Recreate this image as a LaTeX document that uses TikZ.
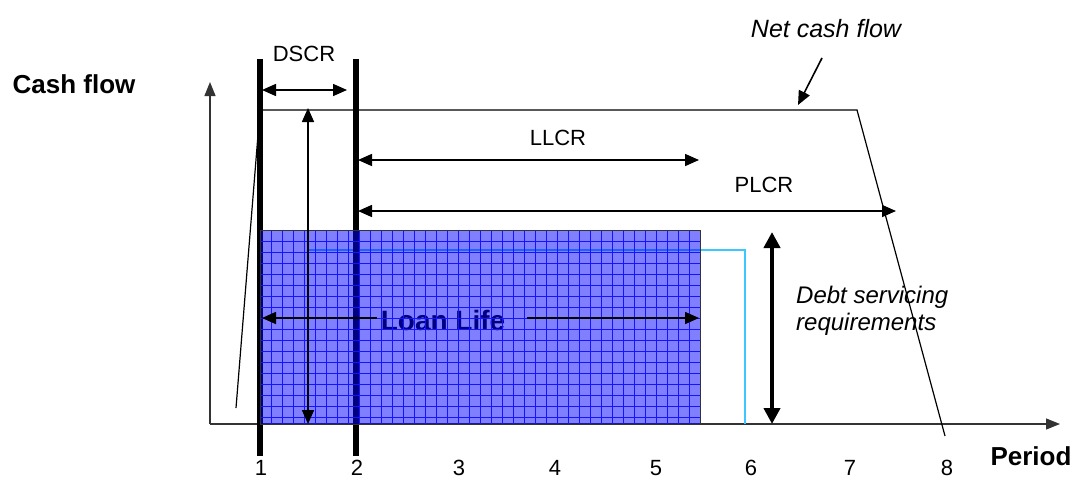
\documentclass[tikz,border=0pt]{standalone}
\usepackage{fontspec}
\setmainfont{Liberation Sans}
\usetikzlibrary{arrows.meta}
\definecolor{loanblue}{RGB}{0,0,255}
\definecolor{gridblue}{RGB}{20,20,255}
\definecolor{reqcyan}{RGB}{60,200,255}

\begin{document}
\begin{tikzpicture}[x=1pt, y=-1pt,
	txt/.style=		{inner sep=0pt, font=\fontsize{22}{26}\selectfont},
	boldtxt/.style=		{inner sep=0pt, font=\fontsize{26}{30}\selectfont\bfseries},
	ittxt/.style=		{inner sep=0pt, font=\fontsize{24}{27}\selectfont\itshape, align=left},
	axisline/.style=	{line width=1.3pt, draw=black!80, -{Triangle[length=14pt,width=11pt]}},
	flowline/.style=	{line width=1.2pt, draw=black},
	ratio/.style=		{line width=1.6pt, {Triangle[length=14pt,width=12pt]}-{Triangle[length=14pt,width=12pt]}},
	onearrow/.style=	{line width=1.6pt, -{Triangle[length=14pt,width=12pt]}},
	periodbar/.style=	{line width=6pt, draw=black},
	debtarrow/.style=	{line width=4pt, {Triangle[length=16pt,width=16pt]}-{Triangle[length=16pt,width=16pt]}}]
	\def\axisy{424}
	\def\loantop{230}
	\def\loanend{700}

	\useasboundingbox (0,0) rectangle (1075,479);

	% axes
	\coordinate (O) at (210,\axisy);
	\coordinate (ytip) at (210,82);
	\coordinate (xtip) at (1060,\axisy);
	\draw[axisline] (O) -- (ytip);
	\draw[axisline] (O) -- (xtip);

	% debt servicing requirement behind the loan
	\coordinate (c1) at (308,250);
	\coordinate (c2) at (745,250);
	\coordinate (c3) at (745,\axisy);
	\draw[reqcyan, line width=1.2pt] (c1) -- (c2) -- (c3);

	% periods 1 and 2
	\foreach \n/\x in {1/260,2/356} {
		\coordinate (bt\n) at (\x,59);
		\coordinate (bb\n) at (\x,456);
		\draw[periodbar] (bt\n) -- (bb\n);
	}
	\node[boldtxt, font=\fontsize{28}{30}\selectfont\bfseries, anchor=base] (loan) at (443,330) {Loan Life};

	% the loan
	\fill[loanblue, fill opacity=0.5] (260,\loantop) rectangle (\loanend,\axisy);
	\begin{scope}
		\clip (260,\loantop) rectangle (\loanend,\axisy);
		\draw[gridblue, line width=0.7pt, shift={(260,\loantop)}] (0,0) grid[step=11pt] (440,194);
	\end{scope}
	\draw[black!80, line width=1pt] (260,\loantop) rectangle (\loanend,\axisy);

	% net cash flow
	\coordinate (n0) at (236,408);
	\coordinate (n1) at (260,110);
	\coordinate (n2) at (857,110);
	\coordinate (n3) at (945,436);
	\draw[flowline] (n0) -- (n1) -- (n2) -- (n3);
	\node[ittxt, font=\fontsize{25}{28}\selectfont\itshape, anchor=base] (ncf) at (826,37) {Net cash flow};
	\coordinate (p1) at (822,58);
	\coordinate (p2) at (798,105);
	\draw[onearrow] (p1) -- (p2);

	% cover ratios
	\node[txt, anchor=base] (dscr) at (304,61) {DSCR};
	\coordinate (d1) at (262,90);
	\coordinate (d2) at (347,90);
	\draw[ratio] (d1) -- (d2);
	\coordinate (v1) at (308,108);
	\coordinate (v2) at (308,\axisy);
	\draw[ratio] (v1) -- (v2);

	\node[txt, anchor=base] (llcr) at (558,145) {LLCR};
	\coordinate (l1) at (358,160);
	\coordinate (l2) at (699,160);
	\draw[ratio] (l1) -- (l2);

	\node[txt, anchor=base] (plcr) at (764,192) {PLCR};
	\coordinate (q1) at (358,211);
	\coordinate (q2) at (896,211);
	\draw[ratio] (q1) -- (q2);

	\coordinate (f1) at (262,318);
	\coordinate (f2) at (699,318);
	\draw[onearrow] (f1 -| loan.west) ++(-4,0) -- (f1);
	\draw[onearrow] (f2 -| loan.east) ++(22,0) -- (f2);

	% debt servicing
	\coordinate (r1) at (772,232);
	\coordinate (r2) at (772,\axisy);
	\draw[debtarrow] (r1) -- (r2);
	\node[ittxt, anchor=base west] (debt) at (796,330) {Debt servicing\\requirements};

	% labels on the axes
	\node[boldtxt, anchor=base] (cash) at (74,93) {Cash flow};
	\node[boldtxt, anchor=base] (period) at (1031,465) {Period};
	\foreach \n/\x in {1/261,2/357,3/459,4/555,5/656,6/751,7/850,8/947}
		\node[txt, anchor=north] (t\n) at (\x,460) {\n};
\end{tikzpicture}
\end{document}
